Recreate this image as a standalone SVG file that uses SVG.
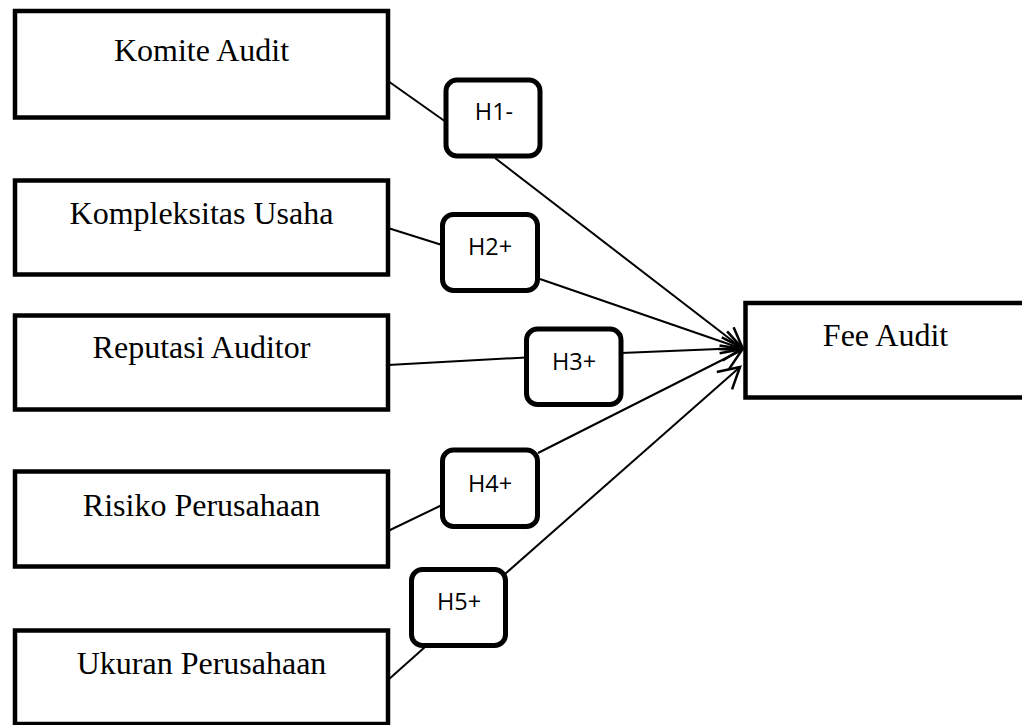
<svg xmlns="http://www.w3.org/2000/svg" width="1022" height="725" viewBox="0 0 1022 725">
  <defs>
    <style>
      .box { fill: #ffffff; stroke: #000000; stroke-width: 4.5; }
      .hyp { fill: #ffffff; stroke: #000000; stroke-width: 5; }
      .t { font-family: "Liberation Serif", "Times New Roman", serif; font-size: 32px; fill: #000000; text-anchor: middle; }
      .h { font-family: "Open Sans", "Noto Sans", sans-serif; font-size: 23.5px; fill: #000000; text-anchor: middle; }
      .c { fill: none; stroke: #000000; stroke-width: 2; }
      .a { marker-end: url(#arrow); }
    </style>
    <marker id="arrow" markerUnits="userSpaceOnUse" markerWidth="30" markerHeight="30" viewBox="-22 -13 26 26" refX="0" refY="0" orient="auto">
      <path d="M-18,-10 L0,0 L-18,10" fill="none" stroke="#000000" stroke-width="2.2"/>
    </marker>
  </defs>

  <g id="connectors">
    <line class="c" x1="388" y1="81" x2="446" y2="122"/>
    <line class="c a" x1="495" y1="158" x2="743" y2="349"/>
    <line class="c" x1="388" y1="228" x2="442" y2="245"/>
    <line class="c a" x1="540" y1="279" x2="743" y2="349"/>
    <line class="c" x1="388" y1="365" x2="526" y2="357.5"/>
    <line class="c a" x1="621" y1="353" x2="743" y2="348"/>
    <line class="c" x1="388" y1="531" x2="442" y2="505"/>
    <line class="c a" x1="538" y1="453" x2="742" y2="350"/>
    <line class="c" x1="388" y1="680" x2="425" y2="647"/>
    <line class="c a" x1="505" y1="574" x2="740" y2="367"/>
  </g>

  <g id="komite-audit">
    <rect class="box" x="15" y="11" width="373" height="106.5"/>
    <text class="t" x="201.5" y="61">Komite Audit</text>
  </g>
  <g id="kompleksitas-usaha">
    <rect class="box" x="15" y="180.5" width="373" height="94"/>
    <text class="t" x="201.5" y="223.5">Kompleksitas Usaha</text>
  </g>
  <g id="reputasi-auditor">
    <rect class="box" x="15" y="315.5" width="373" height="94"/>
    <text class="t" x="201.5" y="357.5">Reputasi Auditor</text>
  </g>
  <g id="risiko-perusahaan">
    <rect class="box" x="15" y="471.5" width="373" height="95"/>
    <text class="t" x="201.5" y="515.5">Risiko Perusahaan</text>
  </g>
  <g id="ukuran-perusahaan">
    <rect class="box" x="15" y="630.5" width="373" height="93.5"/>
    <text class="t" x="201.5" y="674">Ukuran Perusahaan</text>
  </g>
  <g id="fee-audit">
    <rect class="box" x="745.5" y="303" width="373" height="94.5"/>
    <text class="t" x="885.5" y="345.5">Fee Audit</text>
  </g>

  <g id="h1">
    <rect class="hyp" x="446" y="80" width="94" height="76" rx="11" ry="11"/>
    <text class="h" x="494" y="119.5">H1-</text>
  </g>
  <g id="h2">
    <rect class="hyp" x="442.5" y="214.5" width="95" height="76" rx="11" ry="11"/>
    <text class="h" x="490" y="254.5">H2+</text>
  </g>
  <g id="h3">
    <rect class="hyp" x="526.5" y="329" width="94.5" height="75.5" rx="11" ry="11"/>
    <text class="h" x="574" y="369.5">H3+</text>
  </g>
  <g id="h4">
    <rect class="hyp" x="442.5" y="450" width="95" height="76.5" rx="11" ry="11"/>
    <text class="h" x="490" y="491.5">H4+</text>
  </g>
  <g id="h5">
    <rect class="hyp" x="411.5" y="569.5" width="94" height="76" rx="11" ry="11"/>
    <text class="h" x="459" y="610">H5+</text>
  </g>
</svg>
